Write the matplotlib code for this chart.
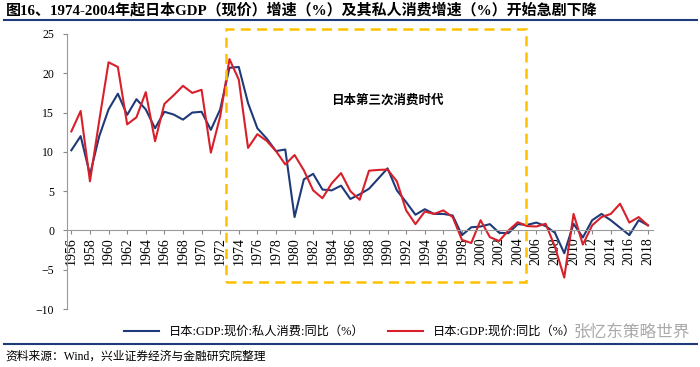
import matplotlib
matplotlib.use("Agg")
import matplotlib.pyplot as plt
from matplotlib.patches import Rectangle
from matplotlib.lines import Line2D

plt.rcParams['font.family'] = ['Liberation Serif', 'Noto Sans CJK SC', 'DejaVu Sans']

years = list(range(1956, 2019))
consumption = [10.2, 12.0, 7.1, 12.0, 15.4, 17.4, 14.7, 16.7, 15.4, 13.0,
               15.1, 14.75, 14.1, 15.0, 15.1, 12.8, 15.4, 20.7, 20.8, 16.2,
               13.0, 11.7, 10.1, 10.3, 1.7, 6.5, 7.2, 5.2, 5.1, 5.7,
               4.0, 4.6, 5.3, 6.6, 7.9, 5.1, 3.6, 2.0, 2.7, 2.1,
               2.1, 1.9, -0.6, 0.4, 0.5, 0.8, -0.3, -0.35, 0.8, 0.7,
               1.0, 0.55, -0.3, -2.9, 0.85, -0.9, 1.3, 2.1, 1.3, 0.35,
               -0.6, 1.3, 0.65]
gdp = [12.6, 15.2, 6.25, 14.0, 21.4, 20.8, 13.5, 14.4, 17.6, 11.35,
       16.1, 17.2, 18.4, 17.5, 17.9, 9.9, 14.5, 21.8, 19.2, 10.5,
       12.25, 11.4, 10.1, 8.4, 9.6, 7.65, 5.1, 4.1, 6.0, 7.3,
       5.0, 3.9, 7.6, 7.7, 7.75, 6.25, 2.55, 0.8, 2.4, 2.1,
       2.55, 1.7, -1.2, -1.6, 1.3, -0.85, -1.35, 0.0, 1.05, 0.55,
       0.5, 0.85, -2.1, -6.0, 2.1, -1.8, 0.65, 1.7, 2.1, 3.4,
       1.0, 1.7, 0.65]
label_cons = "日本:GDP:现价:私人消费:同比（%）"
label_gdp = "日本:GDP:现价:同比（%）"
era_text = "日本第三次消费时代"
era_start, era_end = 1973, 2004

navy = "#1f3a78"
red = "#d8202a"
gold = "#ffc000"

fig = plt.figure(figsize=(7, 3.67), dpi=100)
ax = fig.add_axes([0.0953, 0.158, 0.8370, 0.7494])

x = list(range(len(years)))
ax.plot(x, consumption, color=navy, lw=1.5)
ax.plot(x, gdp, color=red, lw=1.5)

ax.set_xlim(-0.5, len(years) - 0.5)
ax.set_ylim(-10, 25)
ax.set_yticks(range(-10, 26, 5))
ax.set_xticks(x[::2])
ax.set_xticklabels([str(y) for y in years[::2]], fontsize=8)
ax.tick_params(axis='y', labelsize=8.5, length=3, color='#888888', pad=6)
ax.tick_params(axis='x', length=3, color='#888888', direction='out', pad=2,
               labelrotation=90)
ax.spines['top'].set_visible(False)
ax.spines['right'].set_visible(False)
ax.spines['bottom'].set_position(('data', 0))
ax.spines['bottom'].set_color('#999999')
ax.spines['left'].set_color('#999999')

# dashed box marking the era
i0 = years.index(era_start) - 0.4
i1 = years.index(era_end) + 0.9
ax.add_patch(Rectangle((i0, -6.6), i1 - i0, 25.6 + 6.6, fill=False,
                       ls=(0, (4, 2.5)), lw=1.8, ec=gold, clip_on=False, zorder=3))
ax.text(years.index(1990), 16.6, era_text, ha='center', va='center',
        fontsize=9, fontweight='bold', family=['Noto Sans CJK SC'])

# legend
handles = [Line2D([], [], color=navy, lw=1.5), Line2D([], [], color=red, lw=1.5)]
fig.legend(handles, [label_cons, label_gdp], loc='center', ncol=2,
           bbox_to_anchor=(0.5, 0.095), frameon=False,
           handlelength=2.8, columnspacing=2,
           prop={'family': ['Liberation Serif', 'Noto Sans CJK SC'], 'size': 8.8})

# title, rules and source
fig.text(0.008, 0.972, "图16、1974-2004年起日本GDP（现价）增速（%）及其私人消费增速（%）开始急剧下降",
         fontsize=10.8, fontweight='bold', va='center', ha='left')
fig.add_artist(Line2D([0.005, 0.995], [0.945, 0.945], color='#1f3a78', lw=1.5))
fig.add_artist(Line2D([0.005, 0.995], [0.063, 0.063], color='#1f3a78', lw=1.5))
fig.text(0.008, 0.027, "资料来源：Wind，兴业证券经济与金融研究院整理",
         fontsize=8.5, va='center', ha='left')
fig.text(0.985, 0.095, "张忆东策略世界", fontsize=12, color='#aaaaaa',
         va='center', ha='right', family=['Noto Sans CJK SC'])

fig.savefig("out.png", dpi=100)
